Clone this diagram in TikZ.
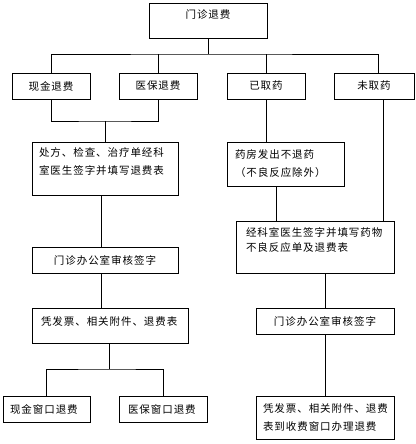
\documentclass[tikz,border=0pt]{standalone}
\usepackage{fontspec}
\newfontfamily\cjk[LetterSpace=9]{Noto Sans CJK SC}
\newcommand\lift[1]{\rule[-#1]{0pt}{0pt}}
\begin{document}
\begin{tikzpicture}[
    x=1pt, y=-1pt,
    line width=0.9pt,
    box/.style={rectangle, draw, inner sep=0pt, minimum height=26pt,
        font=\cjk\fontsize{10.5}{18}\selectfont},
    lbox/.style={box, align=left, text width=#1},
    cbox/.style={box, align=center}
]
    \useasboundingbox (0,0) rectangle (415,444);

    % top level
    \node[cbox, minimum width=118pt, minimum height=35pt, text depth=12pt] (top) at (208,20.5) {门诊退费};

    % second row
    \node[cbox, minimum width=78pt] (cash) at (51,86) {现金退费};
    \node[cbox, minimum width=78pt] (insur) at (158,86) {医保退费};
    \node[cbox, minimum width=78pt] (taken) at (266,86) {已取药};
    \node[cbox, minimum width=80pt] (nottaken) at (374,86) {未取药};

    % left branch
    \node[lbox=132pt, minimum width=146pt, minimum height=53pt] (presc) at (105,168.5) {处方、检查、治疗单经科\\室医生签字并填写退费表\lift{14pt}};
    \node[cbox, minimum width=146pt] (office1) at (105,260) {门诊办公室审核签字};
    \node[lbox=138pt, minimum width=156pt, minimum height=35pt, text depth=8pt] (invoice) at (110,325.5) {凭发票、相关附件、退费表};
    \node[lbox=73pt, minimum width=87pt] (cashwin) at (46.5,409) {现金窗口退费};
    \node[lbox=70pt, minimum width=88pt] (insurwin) at (163,409) {医保窗口退费};

    % right branch
    \node[lbox=101pt, minimum width=117pt, minimum height=44pt] (pharm) at (285.5,164) {药房发出不退药\\（不良反应除外）};
    \node[lbox=138pt, minimum width=158pt, minimum height=52pt,
        font=\cjk\fontsize{10.5}{15}\selectfont] (form) at (315,247) {经科室医生签字并填写药物\\不良反应单及退费表\lift{15pt}};
    \node[cbox, minimum width=138pt] (office2) at (325,321) {门诊办公室审核签字};
    \node[lbox=124pt, minimum width=138pt, minimum height=43pt] (final) at (325,417.5) {凭发票、相关附件、退费\\表到收费窗口办理退费};

    % connectors
    \coordinate (bus) at (208,54);
    \draw (top) -- (bus);
    \draw (cash.north) |- (bus) -| ([xshift=4pt]nottaken.north);
    \draw (insur) -- (insur |- bus);
    \draw (taken) -- (taken |- bus);

    \coordinate (m1) at (105,121);
    \draw (cash.south) |- (m1) -| (insur.south);
    \draw (m1) -- (presc);
    \draw ([xshift=-4pt]presc.south) -- ([xshift=-4pt]office1.north);
    \draw ([xshift=-4pt]office1.south) -- ([xshift=-4pt]office1.south |- invoice.north);

    \coordinate (m2) at (109,369);
    \draw (m2 |- invoice.south) -- (m2);
    \draw (cashwin.north) |- (m2) -| (insurwin.north);

    \draw (taken) -- (taken |- pharm.north);
    \draw ([xshift=9pt]nottaken.south) -- ([xshift=9pt]nottaken.south |- form.north);
    \draw ([xshift=-9.5pt]pharm.south) -- ([xshift=-9.5pt]pharm.south |- form.north);
    \draw (form.south -| office2.north) -- (office2.north);
    \draw (office2) -- (final);
\end{tikzpicture}
\end{document}
